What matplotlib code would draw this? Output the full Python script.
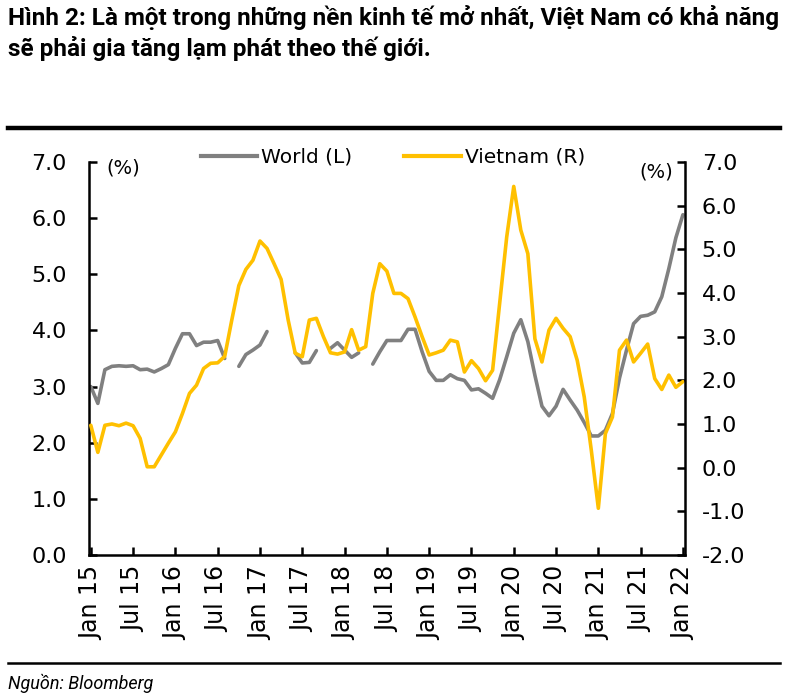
import numpy as np
import matplotlib
matplotlib.use('Agg')
import matplotlib.pyplot as plt
from matplotlib.lines import Line2D

nan = np.nan

# monthly, Jan 2015 .. Jan 2022
world = [3.00, 2.70, 3.30, 3.36, 3.37, 3.36, 3.37, 3.30, 3.31, 3.26, 3.32, 3.39,
         3.68, 3.94, 3.94, 3.73, 3.79, 3.79, 3.82, 3.50, nan, 3.36, 3.57, 3.65,
         3.74, 3.98, nan, nan, nan, 3.60, 3.42, 3.43, 3.64, nan, 3.68, 3.78,
         3.65, 3.52, 3.60, nan, 3.40, 3.62, 3.82, 3.82, 3.82, 4.02, 4.02, 3.62,
         3.27, 3.11, 3.11, 3.21, 3.14, 3.11, 2.94, 2.96, 2.88, 2.79, 3.12, 3.53,
         3.95, 4.19, 3.80, 3.20, 2.65, 2.48, 2.65, 2.95, 2.76, 2.58, 2.36, 2.12,
         2.12, 2.22, 2.52, 3.15, 3.65, 4.12, 4.25, 4.27, 4.33, 4.60, 5.10, 5.65,
         6.06]
vietnam = [0.97, 0.35, 0.97, 1.00, 0.96, 1.02, 0.96, 0.67, 0.02, 0.02, 0.29, 0.56,
           0.82, 1.24, 1.70, 1.89, 2.27, 2.39, 2.40, 2.55, 3.38, 4.17, 4.54, 4.75,
           5.19, 5.02, 4.67, 4.31, 3.38, 2.62, 2.54, 3.38, 3.42, 3.00, 2.63, 2.60,
           2.65, 3.16, 2.69, 2.77, 3.99, 4.67, 4.50, 3.99, 3.99, 3.87, 3.45, 3.00,
           2.58, 2.63, 2.69, 2.92, 2.88, 2.19, 2.45, 2.27, 1.99, 2.23, 3.76, 5.28,
           6.44, 5.44, 4.90, 2.95, 2.42, 3.15, 3.42, 3.19, 3.00, 2.46, 1.62, 0.40,
           -0.93, 0.78, 1.16, 2.69, 2.92, 2.42, 2.62, 2.83, 2.04, 1.79, 2.12, 1.84,
           1.97]
tick_labels = ['Jan 15', 'Jul 15', 'Jan 16', 'Jul 16', 'Jan 17', 'Jul 17', 'Jan 18',
               'Jul 18', 'Jan 19', 'Jul 19', 'Jan 20', 'Jul 20', 'Jan 21', 'Jul 21',
               'Jan 22']
left_ticks = [0, 1, 2, 3, 4, 5, 6, 7]
right_ticks = [-2, -1, 0, 1, 2, 3, 4, 5, 6, 7]

title_1 = 'Hình 2: Là một trong những nền kinh tế mở nhất, Việt Nam có khả năng'
title_2 = 'sẽ phải gia tăng lạm phát theo thế giới.'
source = 'Nguồn: Bloomberg'

gray = '#808080'
gold = '#FFC000'

plt.rcParams['font.family'] = ['DejaVu Sans']
title_font = ['Roboto', 'DejaVu Sans']

months = np.arange(len(world))
tick_pos = months[::6]

fig = plt.figure(figsize=(8, 6.96), dpi=100)
ax = fig.add_axes([0.1113, 0.2026, 0.745, 0.5647])
ax2 = ax.twinx()

ax.plot(months, world, color=gray, lw=2.6, solid_joinstyle='round', solid_capstyle='round')
ax2.plot(months, vietnam, color=gold, lw=2.6, solid_joinstyle='round', solid_capstyle='round')

ax.set_xlim(-0.25, 84.3)
ax.set_ylim(0, 7)
ax2.set_ylim(-2, 7)
ax.set_xticks(tick_pos)
ax.set_xticklabels(tick_labels, rotation=90)
ax.set_yticks(left_ticks)
ax.set_yticklabels([f'{v:.1f}' for v in left_ticks])
ax2.set_yticks(right_ticks)
ax2.set_yticklabels([f'{v:.1f}' for v in right_ticks])

for a in (ax, ax2):
    a.spines['top'].set_visible(False)
    for s in a.spines.values():
        s.set_linewidth(1.8)
ax.spines['right'].set_visible(False)
ax2.spines['left'].set_visible(False)
ax2.spines['bottom'].set_visible(False)

ax.tick_params(axis='y', direction='in', length=6, width=1.8, labelsize=16, pad=16)
ax.tick_params(axis='x', direction='in', length=6, width=1.8, labelsize=17, pad=8)
ax2.tick_params(axis='y', direction='in', length=6, width=1.8, labelsize=16, pad=12)

handles = [Line2D([], [], color=gray, lw=3), Line2D([], [], color=gold, lw=3)]
fig.legend(handles, ['World (L)', 'Vietnam (R)'], loc='center',
           bbox_to_anchor=(0.491, 0.774), ncol=2, frameon=False, fontsize=14.5,
           handlelength=2.8, handletextpad=0.2, columnspacing=2.6,
           borderaxespad=0, borderpad=0)

fig.text(123 / 800, 1 - 168 / 696, '(%)', ha='center', va='center', fontsize=14)
fig.text(656 / 800, 1 - 172 / 696, '(%)', ha='center', va='center', fontsize=14)

fig.text(0.01, 1 - 25 / 696, title_1, fontsize=17.5, fontweight='bold',
         family=title_font, va='baseline')
fig.text(0.01, 1 - 56 / 696, title_2, fontsize=17.5, fontweight='bold',
         family=title_font, va='baseline')

fig.add_artist(Line2D([0.01, 0.975], [1 - 128 / 696] * 2, color='black', lw=3.2,
                      transform=fig.transFigure))
fig.add_artist(Line2D([0.01, 0.975], [1 - 663 / 696] * 2, color='black', lw=1.8,
                      transform=fig.transFigure))
fig.text(0.01, 1 - 689 / 696, source, style='italic', fontsize=13,
         family=title_font, va='baseline')

fig.savefig('out.png', dpi=100)
